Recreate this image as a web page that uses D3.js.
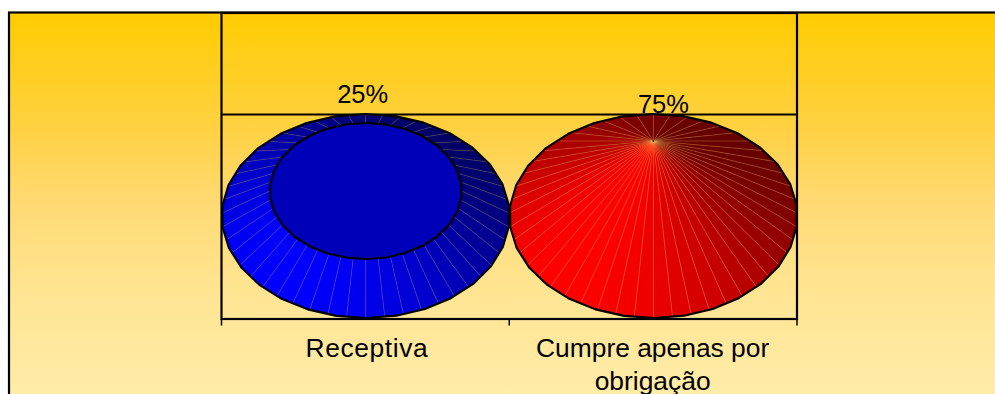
<!DOCTYPE html>
<html>
<head>
<meta charset="utf-8">
<script src="https://cdn.jsdelivr.net/npm/d3@7"></script>
<style>
html,body{margin:0;padding:0;background:#fff;overflow:hidden}
svg{display:block}
text{font-family:"Liberation Sans",Arial,sans-serif;fill:#000}
</style>
</head>
<body>
<svg id="chart" width="995" height="394"></svg>
<script>
// Chart data
const categories = ["Receptiva", "Cumpre apenas por obrigação"];
const percentages = [25, 75];
const valueLabels = ["25%", "75%"];
const seriesHues = ["blue", "red"];

// Layout
const W = 995, H = 394;
const plot = {left: 221.5, right: 797, wallTop: 13, floorBack: 114.5, axisY: 319};
const baseCenterY = 216, radiusX = 144, radiusY = 102;
const facetCount = 48, outlineSides = 30;
const brightestAngle = 130 * Math.PI / 180;
const labelShift = [{dx: -3, y: 103}, {dx: 10, y: 113}];

const svg = d3.select("#chart");

// Background panel with vertical gradient; its right and bottom edges run off the page
const defs = svg.append("defs");
const grad = defs.append("linearGradient").attr("id", "panelFill")
  .attr("gradientUnits", "userSpaceOnUse")
  .attr("x1", 0).attr("y1", 12).attr("x2", 0).attr("y2", H);
[[0, "#FFCC00"], [0.31, "#FFD143"], [0.5, "#FFDA74"], [0.75, "#FFE594"], [1, "#FFECA8"]]
  .forEach(([offset, color]) => grad.append("stop").attr("offset", offset).attr("stop-color", color));

svg.append("rect").attr("x", 9).attr("y", 12.5)
  .attr("width", W + 20).attr("height", H + 20)
  .attr("fill", "url(#panelFill)").attr("stroke", "#000").attr("stroke-width", 2.2);

// Scales: the value axis tops out at the tallest cone, which comes to a point
const x = d3.scaleBand().domain(categories).range([plot.left, plot.right]);
const rise = d3.scaleLinear().domain([0, d3.max(percentages)]).range([baseCenterY, baseCenterY - 75]);
const taper = d3.scaleLinear().domain([0, d3.max(percentages)]).range([1, 0]);

// Back wall and floor edge
const wall = svg.append("g").attr("fill", "none").attr("stroke", "#000").attr("stroke-width", 2.2);
wall.append("rect").attr("x", plot.left).attr("y", plot.wallTop)
  .attr("width", plot.right - plot.left).attr("height", plot.axisY - plot.wallTop);
wall.append("line").attr("x1", plot.left).attr("x2", plot.right)
  .attr("y1", plot.floorBack).attr("y2", plot.floorBack);

const shade = (hue, level) => {
  const v = Math.round(255 * level);
  return hue === "blue" ? `rgb(0,0,${v})` : `rgb(${v},0,0)`;
};
const level = a => 0.4 + 0.6 * Math.pow((1 + Math.cos(a - brightestAngle)) / 2, 1.1);
const ringPoint = (cx, cy, k, a) => [cx + radiusX * k * Math.cos(a), cy + radiusY * k * Math.sin(a)];
const polygon = d3.line();

percentages.forEach((value, i) => {
  const cx = x(categories[i]) + x.bandwidth() / 2 + 0.3;
  const topY = rise(value), k = taper(value);
  const g = svg.append("g");
  const step = 2 * Math.PI / facetCount;
  const sides = d3.range(outlineSides).map(n => ringPoint(cx, baseCenterY, 1, n * 2 * Math.PI / outlineSides + 0.1));
  const clipId = "cone" + i;
  defs.append("clipPath").attr("id", clipId).append("path").attr("d", polygon(sides) + "Z");

  const body = g.append("g").attr("clip-path", `url(#${clipId})`);
  // Side facets run from the cut top down past the base outline and are trimmed by the clip
  body.selectAll("path.facet").data(d3.range(facetCount)).join("path")
    .attr("class", "facet")
    .attr("d", n => {
      const a0 = n * step, a1 = (n + 1) * step;
      return polygon([
        ringPoint(cx, topY, k, a0), ringPoint(cx, topY, k, a1),
        ringPoint(cx, baseCenterY, 1.04, a1), ringPoint(cx, baseCenterY, 1.04, a0)
      ]) + "Z";
    })
    .attr("fill", n => shade(seriesHues[i], level((n + 0.5) * step)))
    .attr("stroke", n => shade(seriesHues[i], level((n + 0.5) * step)))
    .attr("stroke-width", 0.4);
  // Light seams between facets
  body.selectAll("line.seam").data(d3.range(facetCount)).join("line")
    .attr("class", "seam")
    .attr("x1", n => ringPoint(cx, topY, k, n * step)[0])
    .attr("y1", n => ringPoint(cx, topY, k, n * step)[1])
    .attr("x2", n => ringPoint(cx, baseCenterY, 1.04, n * step)[0])
    .attr("y2", n => ringPoint(cx, baseCenterY, 1.04, n * step)[1])
    .attr("stroke", "#FFC860").attr("stroke-opacity", i === 0 ? 0.3 : 0.4).attr("stroke-width", 0.7);

  g.append("path").attr("d", polygon(sides) + "Z")
    .attr("fill", "none").attr("stroke", "#000").attr("stroke-width", 2.1).attr("stroke-linejoin", "round");

  if (k > 0) {
    const cap = d3.range(outlineSides).map(n => ringPoint(cx, topY, k, n * 2 * Math.PI / outlineSides + 0.1));
    g.append("path").attr("d", polygon(cap) + "Z")
      .attr("fill", shade(seriesHues[i], 0.72)).attr("stroke", "#000")
      .attr("stroke-width", 2.1).attr("stroke-linejoin", "round");
  } else {
    g.append("circle").attr("cx", cx).attr("cy", topY).attr("r", 1).attr("fill", "#000");
  }

  svg.append("text").attr("x", cx + labelShift[i].dx).attr("y", labelShift[i].y)
    .attr("text-anchor", "middle").attr("font-size", 25.5).text(valueLabels[i]);
});

// Category axis with edge ticks at the band boundaries
const edges = [plot.left, plot.left + x.bandwidth(), plot.right];
const axis = svg.append("g").attr("transform", `translate(0,${plot.axisY})`);
axis.append("line").attr("x1", plot.left).attr("x2", plot.right).attr("stroke", "#000").attr("stroke-width", 2.2);
axis.selectAll("line.tick").data(edges).join("line").attr("class", "tick")
  .attr("x1", d => d).attr("x2", d => d).attr("y1", 0).attr("y2", 6.5)
  .attr("stroke", "#000").attr("stroke-width", 1.5);

// Category labels, wrapped to the band width
const wrapLines = [["Receptiva"], ["Cumpre apenas por", "obrigação"]];
const labelSpacing = [0.6, 0];
const labelNudge = [1.5, -0.5];
categories.forEach((c, i) => {
  const t = svg.append("text").attr("text-anchor", "middle").attr("font-size", 26.4)
    .attr("letter-spacing", labelSpacing[i]);
  wrapLines[i].forEach((line, j) => {
    t.append("tspan").attr("x", x(c) + x.bandwidth() / 2 + labelNudge[i]).attr("y", 357 + j * 33).text(line);
  });
});
</script>
</body>
</html>
